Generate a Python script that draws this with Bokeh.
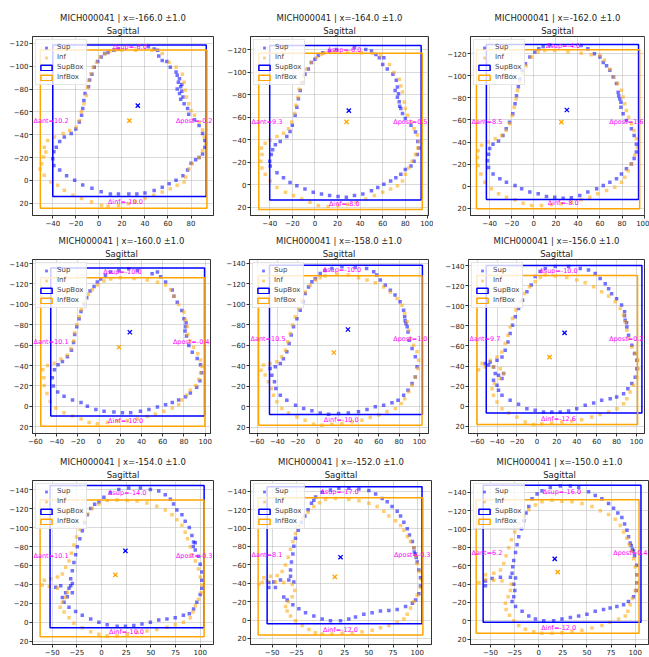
from bokeh.plotting import figure
from bokeh.layouts import column, row
from bokeh.models import Range1d, FixedTicker, Title, Legend, LegendItem, Label
from bokeh.embed import file_html
from bokeh.resources import INLINE

CASE = "MICH000041"
SLICE_X = [-166.0, -164.0, -162.0, -160.0, -158.0, -156.0, -154.0, -152.0, -150.0]

# ---- contour points (x, y) per slice ----
SUP_166 = [(13,-114),(17,-115),(43,-117),(48,-115),(51,-114),(52,-109),(55,-105),(59,-104),(62,-99),(67,-95),(70,-89),(71,-82),(70,-76),(71,-71),(74,-67),(77,-63),(78,-58),(83,-53),(87,-48),(90,-41),(92,-35),(92,-29),(90,-23),(87,-20),(84,-18),(80,-15),(77,-9),(73,-4),(67,0),(61,3),(55,6),(48,9),(40,11),(33,12),(26,12),(17,12),(10,12),(2,10),(-6,7),(-14,4),(-21,0),(-28,-4),(-34,-9),(-39,-13),(-40,-19),(-39,-25),(-37,-29),(-34,-34),(-30,-38),(-24,-41),(-20,-45),(-17,-51),(-15,-57),(-14,-63),(-13,-70),(-12,-76),(-9,-82),(-8,-88),(-6,-93),(-4,-99),(-1,-104),(2,-108),(5,-111),(8,-112),(68,-92),(69,-86),(72,-84),(72,-78),(73,-73),(68,-80)]
INF_166 = [(14,-114),(20,-114),(32,-114),(46,-114),(55,-111),(61,-103.5),(67,-99),(72.5,-93),(74,-86),(75,-79),(76,-73),(78,-67),(80,-61),(83,-57),(87,-51),(90,-44),(91.5,-38),(93,-32),(90,-26),(87,-20),(81,-14.6),(78,-10),(75.4,-3),(74,1.5),(68,4.4),(62,7.3),(55,10.2),(47.7,13),(40,16),(31.6,19),(25.7,20.4),(17,22),(8,22.7),(2.3,22),(-6.4,19),(-15,16),(-22.5,13),(-30,8.7),(-35.7,4.4),(-41.5,1.5),(-47.4,-4.4),(-51,-10),(-49.7,-14.6),(-48,-20.4),(-46,-24.8),(-47.4,-29),(-44.4,-35),(-38.6,-38),(-31,-41),(-25.4,-43.7),(-19.6,-46.6),(-16.7,-52.5),(-15.2,-60),(-12.9,-67),(-10.8,-74.3),(-10,-81.6),(-8.8,-87.5),(-7,-93.3),(-5,-99),(-2,-103.5),(1,-108),(5.3,-110.8),(9.6,-113)]

SUP_164 = [(3,-115),(7,-117.5),(13,-119),(19,-120.5),(35,-122),(45,-120.5),(50,-119),(54,-116),(57,-113),(61,-113),(60,-107),(64,-103),(69,-98.5),(72,-93),(73,-87),(74,-81),(74.6,-74),(76,-68),(77.5,-63.5),(80,-59),(85,-53),(89,-47),(91,-38.6),(92,-32.7),(90.6,-27),(87.7,-21),(85,-16.7),(80,-13.7),(76,-9.4),(71.6,-6.4),(67,-3.5),(61,-0.6),(55.6,2.3),(50,5.3),(42.4,8.2),(35,9.6),(27.8,11),(20.5,10.5),(13,9.6),(5.8,8.2),(-1.5,6.7),(-8.8,3.8),(-16,0.9),(-22,-2),(-27.8,-6.4),(-33.6,-10.8),(-39.5,-16.7),(-40,-21),(-38.6,-27),(-37.4,-31.3),(-35,-35.7),(-30.7,-38.6),(-24.9,-43),(-22,-47.4),(-20,-53),(-17.5,-62),(-16,-69),(-14.6,-76.6),(-13,-84),(-11,-91),(-8.8,-98.5),(-5.8,-103),(-3,-108.8),(0,-111.7),(73,-78),(75,-70),(71,-84)]
INF_164 = [(8.8,-117.5),(17.5,-118),(29,-118),(41,-117.5),(51,-117),(58,-114.6),(66,-107),(70,-100),(74.6,-94),(76,-88),(77.5,-82.5),(79,-73.7),(80,-68),(82,-62),(85,-56),(87.7,-50),(90.6,-44.4),(92,-38.6),(91,-32.7),(89,-27),(86,-21),(83,-15),(80,-9.4),(77.5,-3.5),(73,0.9),(67,3.8),(60,6.7),(52.6,9.6),(45,12.6),(36.5,15.5),(29,17.5),(20.5,18.4),(11.7,19.3),(3,18.4),(-4.4,15.5),(-11.7,12.6),(-19,9.6),(-26,6.7),(-33.6,2.3),(-39.5,-3.5),(-44,-9.4),(-46.8,-15),(-48,-21),(-46.8,-27),(-47.4,-32.7),(-44,-37),(-39.5,-40),(-33.6,-43),(-27.8,-46),(-23.4,-50),(-20.5,-56),(-18,-63.5),(-16.7,-70.8),(-15,-78),(-14,-85),(-12,-91),(-10,-97),(-7.3,-103),(-3.5,-108.8),(1.5,-113),(5.3,-116)]

SUP_162 = [(8.5,-126.6),(14.5,-128),(43,-127.5),(49,-124.5),(55,-120),(60,-117),(63,-112),(66,-109),(69,-105),(72,-99),(75,-93),(76.5,-85),(78,-79),(79,-71.6),(81,-65.6),(84,-59.5),(88.5,-52),(91,-46),(93,-38),(93,-31),(91,-25),(88.5,-20),(84,-15.7),(79.5,-11),(75,-6.6),(69,-3.6),(63,-0.6),(57,2.4),(49,5.4),(41.7,8.5),(34,10.6),(26.6,11),(19,10),(11.5,9.4),(4,7),(-3.6,5.4),(-11,2.4),(-17,-0.6),(-24.8,-3.6),(-30.8,-6.6),(-36.9,-11),(-41,-17),(-42,-23),(-41,-29),(-40,-34),(-37,-38),(-32,-41),(-28,-46),(-25,-52),(-22,-58),(-19,-65.6),(-17,-74.6),(-15.7,-82),(-14,-90),(-12.7,-97),(-10.6,-105),(-7.6,-111),(-3.6,-117),(1,-121.5),(4.5,-124.5),(77,-82),(79,-76)]
INF_162 = [(10,-123),(19,-123),(31,-121.5),(43,-120.5),(52,-119),(60,-118.4),(64,-114),(69,-106),(73,-99),(76,-93),(79.5,-87),(81,-80.7),(82.5,-74.6),(84,-68.6),(86,-62.5),(88.5,-56.5),(91,-50.5),(93,-43),(94,-35),(91.5,-28),(88.5,-20),(85.5,-14),(82.5,-8),(79.5,-3.6),(73.4,1),(66,4),(58,7),(50.8,10),(43,12.4),(34,14.5),(25,16),(16,16.6),(7,17.5),(-2,17.5),(-9.7,15.4),(-17,12.4),(-24.8,10),(-32,7),(-38.4,2.4),(-44.4,-3.6),(-48,-11),(-50.5,-18.7),(-51,-26),(-50.5,-32),(-47.4,-37),(-41.4,-40),(-35,-43),(-29,-46),(-25,-50.5),(-21.8,-56.5),(-19.6,-64),(-17.8,-71.6),(-16,-79),(-14.8,-86.7),(-12.7,-94),(-10,-101.8),(-7,-109),(-2,-117),(4,-121.5)]

SUP_160 = [(1.6,-125),(6,-128.5),(11,-131.7),(18.8,-133),(28,-135),(36,-133),(50,-130),(55,-131.7),(58,-127),(62.7,-122),(69,-114),(70.5,-108),(73.7,-102),(78,-94),(80,-86),(81.5,-78),(82.4,-69),(84.6,-59.6),(87.8,-53),(92.5,-47),(95.6,-40.8),(96.6,-33),(95,-25),(92,-18.8),(86,-13),(81.5,-9.4),(75,-6.3),(69,-3.8),(62.7,-1.6),(55,0.6),(47,3),(39,4.7),(29.8,6.3),(22,6.3),(14,5.6),(4.7,4.7),(-3,3),(-11,0),(-17,-3.8),(-25,-6.3),(-33,-10),(-39,-14),(-43,-20),(-44,-28),(-42,-36),(-38.6,-40.8),(-34.5,-44),(-29.8,-48.6),(-26,-55),(-24,-62.7),(-23,-70.5),(-21,-78),(-18.8,-86),(-17,-93),(-14,-100),(-11.6,-106.6),(-8.5,-113),(-4.7,-117.5),(-1.6,-122),(81,-74),(82,-82)]
INF_160 = [(11,-124.8),(20,-126),(33,-125.4),(45.5,-123.8),(55,-121.6),(62.7,-119),(67.4,-114.4),(70.5,-108),(75,-100),(80,-92.5),(81.5,-84.6),(83,-78.4),(83.7,-70.5),(85.6,-64),(89,-58),(93,-51.7),(95.6,-45.5),(97,-39),(95.6,-33),(94,-26.6),(91,-20.4),(86,-15.7),(82.4,-11),(78,-6.3),(75,-1.6),(69,1.6),(61,4.7),(53,7.8),(45.5,10),(36,12.5),(26.6,14),(17,14),(7.8,15.7),(-1.6,17),(-9.4,15.7),(-17,12.5),(-25,9.4),(-33,6.3),(-40.8,1.6),(-46,-4.7),(-49,-12.5),(-51.7,-20.4),(-52,-28),(-53,-36),(-48.6,-40),(-42.3,-42.3),(-36,-46.4),(-30,-50),(-26.6,-56.4),(-24,-64),(-23,-72),(-21,-80),(-18.8,-87.8),(-16.6,-94.7),(-14,-102),(-10,-110),(-6.3,-114.4),(-1.6,-119),(4.7,-123)]

SUP_158 = [(-2.6,-125),(2.3,-130),(7,-133),(13.8,-135),(23.7,-136.6),(36.8,-136),(48,-135),(55,-131.7),(58,-128.5),(61.5,-123.6),(66.4,-118.7),(71.4,-113.8),(76,-109),(81,-102.4),(84.5,-94.3),(85.5,-87.8),(86.8,-81.3),(88.8,-73),(90,-65),(92.8,-57),(96,-48.8),(97.7,-39),(96,-29),(92.8,-22.8),(88.8,-16.3),(84.5,-11.4),(79,-6.5),(73,-3.9),(64.8,-1.6),(56.6,0),(48.4,2.6),(40,4.9),(30,5.9),(20.4,6.5),(10.5,7.2),(2.3,5.9),(-5.9,3.9),(-14,1.6),(-22,-1.6),(-30.6,-6.5),(-37,-11.4),(-41.4,-17.9),(-42.8,-24.4),(-45.4,-30.9),(-47,-37.4),(-42,-39),(-37,-42.3),(-34,-47),(-30.6,-53.7),(-28.3,-61.8),(-26.3,-70),(-24,-78),(-20.7,-86),(-17.4,-94.3),(-15,-102.4),(-12.5,-110.6),(-9.2,-117),(-5.9,-122),(86,-84),(88,-78)]
INF_158 = [(7,-127.5),(18.8,-129.4),(30,-128.5),(40,-126),(48.4,-123.6),(56.6,-121),(64.8,-117),(71.4,-112),(78,-105.7),(82.9,-99),(85.5,-91),(87.8,-83),(89.5,-74.8),(91,-66.7),(94.4,-60),(97.7,-53.7),(99.3,-45.5),(98.7,-37.4),(96,-29),(92.8,-21),(89.5,-14.6),(85.5,-8),(82.2,-3.3),(76.3,1.6),(68,4.9),(60,8),(51.6,10.4),(43.4,13),(33.6,14.6),(23.7,16.3),(13.8,17),(4,17.9),(-4.3,17),(-12.5,13),(-20.7,9.8),(-29,5.9),(-35.5,1.6),(-40.5,-4.9),(-43.8,-11.4),(-46,-17.9),(-48.7,-24.4),(-52,-31),(-56,-35.8),(-53.6,-40.7),(-47,-42.3),(-40.5,-44),(-35.5,-48.8),(-32,-55.3),(-29.6,-63.4),(-27.3,-71.5),(-25,-79.7),(-22.4,-87.8),(-19,-96),(-16.4,-104),(-12.5,-112),(-7.6,-118.7),(-2.6,-123.6),(2.3,-126)]

SUP_156 = [(-1.7,-129),(3.3,-134),(8.4,-137),(18.4,-139),(31.8,-139),(43.5,-137),(51.8,-135.5),(58.5,-132),(63.5,-127),(68.6,-122),(72,-117),(75,-112),(80,-107),(85,-100.7),(88,-94),(88.6,-85.7),(90.3,-79),(92,-70.8),(95.3,-60.8),(98,-52.5),(100.3,-45.8),(100.3,-37.5),(98.7,-29),(95.3,-22.6),(91.3,-17.6),(87,-12.6),(80,-9.3),(73.6,-7.6),(65,-6),(57,-3.3),(48.5,-1),(40,2.3),(31.8,4.7),(23.4,5.6),(15,5.6),(6.7,5.6),(-1.7,4),(-10,2.3),(-18.4,-2),(-26.8,-6),(-35,-11),(-38.5,-16),(-40,-21),(-43.5,-26),(-38.5,-31),(-33.4,-32.6),(-35,-27.6),(-41.8,-32.6),(-43.5,-39),(-48.5,-41),(-51.8,-42.5),(-46.8,-44),(-40,-45.8),(-35,-49),(-31.8,-55.8),(-29,-64),(-26.8,-72.4),(-24.4,-80.7),(-21.7,-89),(-18.4,-97.3),(-14.4,-105.6),(-10,-114),(-5.7,-120.6),(88,-90),(90,-83)]
INF_156 = [(8.4,-130.6),(18.4,-129.6),(30,-128),(40,-125.6),(48.5,-123),(57,-119),(65,-114),(72,-109.6),(78.6,-104),(83.6,-97.3),(87,-90.7),(88.6,-84),(90.3,-75.7),(92,-67.4),(95.3,-59),(98.7,-52.5),(101.3,-45.8),(102,-37.5),(100.3,-29),(97,-21),(93.6,-14.3),(90.3,-7.6),(87,-2.7),(80.3,2.3),(72,5.6),(63.5,8),(55,10.6),(45,13.3),(35,14.6),(25,15.6),(15,16.6),(5,17.3),(-3.3,18),(-11.7,15.6),(-20,10.6),(-28.4,6.6),(-35,2.3),(-40,-4.3),(-43.5,-11),(-45,-17.6),(-42.5,-22.6),(-36.8,-27.6),(-33.4,-32.6),(-36.8,-37.5),(-43.5,-39),(-51.8,-39),(-58.5,-36.5),(-55,-42.5),(-46.8,-45.8),(-40,-49),(-35,-54),(-31.8,-62.5),(-29,-70.8),(-26.8,-79),(-24.4,-87.4),(-21,-95.7),(-16.7,-104),(-12.4,-112.3),(-7.4,-119),(-1.7,-124),(3.3,-128)]

SUP_154 = [(-2.7,-127),(2.4,-132),(9,-137),(17.5,-140.4),(27.6,-142),(39.4,-142),(49.5,-140.4),(58,-138.7),(64.6,-134.7),(69.7,-130),(73,-125),(76.4,-118.5),(81.5,-113.5),(84.8,-106.7),(89,-100),(91.6,-91.6),(93.3,-84.8),(95,-76.4),(98.3,-69.7),(100,-61.3),(101.7,-53),(101.7,-44.4),(101.7,-36),(100,-29.3),(96.6,-21),(93.3,-14),(89,-9),(83,-7.4),(74.7,-4.7),(66.3,-3.4),(58,-2.4),(49.5,0),(41,2),(32.7,3.4),(24.2,4.4),(15.8,4.4),(5.7,2.7),(-2.7,0),(-11,-3.4),(-19.5,-7.4),(-26.3,-11.4),(-33,-15.8),(-38,-21),(-39.7,-26),(-36.4,-31),(-33,-36),(-29.6,-41),(-46.5,-37),(-41.4,-38.4),(-31.3,-38.4),(-29.6,-31),(-34.7,-27),(-31.3,-46),(-29.6,-54.5),(-28,-63),(-26.3,-71.4),(-24.6,-79.8),(-22,-88.2),(-19.5,-96.6),(-17,-105),(-14.5,-113.5),(-11,-120.2),(-7,-124.6),(93,-80),(95,-84)]
INF_154 = [(5.7,-128.6),(15.8,-129.3),(26,-128.6),(36,-128),(46,-126),(56,-122.6),(64.6,-118.5),(71.4,-113.5),(76.4,-108.4),(81.5,-102.4),(84.8,-95),(87.2,-88.2),(90,-79.8),(91.6,-71.4),(95,-64.6),(98.3,-56.2),(100,-47.8),(101.7,-39.4),(101,-31),(98.3,-24.2),(95,-17.5),(92.6,-10.8),(90,-4.7),(83,0),(74.7,2.7),(66.3,5.4),(56,7.7),(46,9.4),(36,11),(26,12.8),(15.8,14.5),(5.7,14.5),(-2.7,12.8),(-11,10),(-19.5,6),(-28,1),(-33,-4.7),(-38,-10.8),(-42,-15.8),(-39.7,-21),(-36.4,-26),(-34.7,-31.6),(-44.8,-36),(-53,-37.7),(-60,-39.4),(-58,-44.4),(-51.5,-46),(-44.8,-47.8),(-39.7,-51),(-36.4,-58),(-33,-64.6),(-30.6,-73),(-28,-81.5),(-25.3,-90),(-22,-98.3),(-17.8,-106.7),(-13.8,-114.5),(-9.4,-120.2),(-2.7,-125)]

SUP_152 = [(-5,-133.8),(1.7,-139),(10.3,-141.4),(19,-143.4),(29.3,-143.4),(39.7,-142.4),(50,-140.7),(57,-137),(63.8,-132),(69,-128.6),(74,-123.4),(79.3,-118.3),(82.8,-113),(86.2,-106.2),(89.7,-99.3),(92,-92.4),(95,-85.5),(96.6,-78.6),(98.3,-71.7),(100,-63),(101.7,-54.5),(103.4,-45.9),(103.4,-37),(101.7,-28.6),(98.3,-21.7),(95,-18.3),(88,-14.8),(79.3,-11.4),(70.7,-10.3),(62,-9.7),(53.4,-8),(44.8,-6.2),(36.2,-3.4),(29.3,-1),(20.7,0.7),(10.3,0.7),(1.7,-1),(-6.9,-4.5),(-15.5,-8),(-22.4,-12.4),(-28.6,-16.6),(-34.5,-21.7),(-38,-25),(-53.4,-40.7),(-48.3,-41.4),(-41.4,-43.4),(-32.8,-43.4),(-27.6,-41.4),(-46.6,-35.5),(-53.4,-35.5),(-31,-47.6),(-31,-54.5),(-30,-63),(-28.6,-71.7),(-27.6,-80.3),(-25.9,-89),(-23,-97.6),(-19.7,-106.2),(-16.2,-113),(-12.8,-120),(-9.3,-127),(-6.9,-130.3),(97,-74),(99,-68)]
INF_152 = [(5.2,-131),(15.5,-132),(29.3,-131),(39.7,-129.7),(50,-127),(58.6,-123.4),(65.5,-118.3),(70.7,-113),(77.6,-108),(82.8,-102.8),(86.2,-97.6),(89.7,-90.7),(93,-85.5),(96.6,-78.6),(98.3,-70),(100,-61.4),(102.4,-52.8),(104.5,-44),(103.4,-35.5),(100,-27),(96.6,-20),(93,-13),(89.7,-6.2),(86.2,-1),(79.3,2.4),(70.7,5.9),(62,8.3),(53.4,11),(43,12.8),(32.8,13.8),(22.4,14.5),(12,15.2),(1.7,15.2),(-5.2,13.8),(-12,10.3),(-19,5.9),(-25.9,0.7),(-31,-4.5),(-34.5,-9.7),(-36.2,-14.8),(-33.4,-20),(-29.3,-25.2),(-26.6,-32),(-29.3,-39),(-38,-40.7),(-46.6,-41.4),(-55.2,-42.4),(-60.3,-40.7),(-63.8,-39),(-58.6,-45.9),(-51.7,-47.6),(-44.8,-48.3),(-39.7,-52.8),(-36.2,-59.7),(-33.4,-68.3),(-31,-77),(-28.6,-85.5),(-25.9,-94),(-22.4,-102.8),(-18.3,-110.3),(-12.8,-117.2),(-6.9,-123.4),(-1,-127.6)]

SUP_150 = [(-6.9,-133),(-1.7,-138.4),(3.4,-141.9),(12,-145.3),(22.4,-147),(32.8,-147),(41.4,-145.3),(51.7,-140.8),(58.6,-136.7),(65.5,-133.2),(72.4,-128),(77.6,-122.8),(82,-117.6),(86.2,-112.5),(89,-105.5),(91.4,-98.6),(93.1,-91.7),(94.8,-84.8),(97.2,-77.9),(99.3,-71),(101.7,-60.6),(101.7,-50.2),(101.7,-41.5),(101,-32.9),(98.3,-26),(93,-20.8),(88,-17.3),(81,-15.6),(74,-13.8),(67.2,-12.1),(58.6,-10.4),(50,-6.9),(41.4,-5.2),(32.8,-3.5),(24.1,-1.7),(15.5,0),(5.2,0),(-3.4,-1.7),(-10.3,-5.2),(-17.2,-10.4),(-24,-15.6),(-27.6,-20.8),(-55.2,-43.3),(-48.3,-46),(-39.7,-47.4),(-29.3,-47.4),(-24,-46.7),(-25.9,-39.8),(-24.8,-32.9),(-25.9,-26),(-55.2,-38),(-27.6,-51.9),(-26.9,-58.8),(-25.9,-65.7),(-24,-74.4),(-22.4,-83),(-20.7,-91.7),(-17.9,-100.3),(-15.5,-109),(-13.1,-117.6),(-10.3,-124.6),(96,-82),(98,-76)]
INF_150 = [(3.4,-129.8),(13.8,-131.5),(24.1,-130.4),(34.5,-129.8),(44.8,-128),(55.2,-124.6),(63.8,-120),(72.4,-116),(79.3,-110.7),(84.5,-103.8),(88,-96.9),(91.4,-90),(93.8,-83),(95.9,-76),(98.3,-67.5),(100,-58.8),(101.7,-50.2),(101.7,-41.5),(100,-32.9),(97.2,-24.2),(94.8,-17.3),(92.4,-10.4),(89.7,-5.2),(82.8,-1.7),(74,1.7),(65.5,5.2),(55.2,8),(44.8,10.4),(34.5,12.1),(24.1,13.1),(13.8,13.8),(3.4,13.8),(-5.2,12.1),(-13.8,9.3),(-20.7,5.2),(-25.9,0),(-30.3,-5.9),(-33.8,-12.1),(-34.5,-19),(-31.7,-26),(-29.3,-32.9),(-28.3,-39.8),(-38,-43.3),(-46.6,-44),(-55.2,-45),(-62,-41.5),(-55.2,-50.2),(-46.6,-51.9),(-39.7,-55.4),(-36.2,-62.3),(-33.8,-71),(-31,-79.6),(-28.3,-88.2),(-24.8,-96.9),(-20.7,-105.5),(-15.5,-114.2),(-10.3,-121),(-3.4,-126.3)]

SUP_POINTS = [SUP_166, SUP_164, SUP_162, SUP_160, SUP_158, SUP_156, SUP_154, SUP_152, SUP_150]
INF_POINTS = [INF_166, INF_164, INF_162, INF_160, INF_158, INF_156, INF_154, INF_152, INF_150]

# bounding boxes (left, right, top, bottom)
SUP_BOX = [(-40,93.2,-118.5,14.2),(-40,94,-124,13.5),(-43,95,-128.4,12),(-45.5,99.4,-135.7,9.4),(-47.7,103,-138,7.5),(-50.8,105.4,-140,6.6),(-52.2,104,-144.4,6),(-55.2,105,-145,4),(-57.6,106,-147.7,1.7)]
INF_BOX = [(-50.8,93.8,-114.2,24.4),(-49.7,95,-117,22),(-52,96,-123.6,20.5),(-54.9,99.7,-126,19.4),(-58.5,102.6,-127.8,17.9),(-60.2,101,-130,18),(-62.3,104,-129.3,15.5),(-64.5,105.9,-133,16.2),(-64.8,104,-132,13.8)]

# centroids
SUP_CENTROID = [(33.8,-65.5),(30,-66),(30,-69),(29,-72.7),(29.6,-75.4),(27.8,-73),(24.2,-75.4),(20.7,-68.3),(16.6,-67.5)]
INF_CENTROID = [(26.5,-52.3),(28,-56),(25,-58),(18.8,-58),(15.8,-53),(12.7,-49),(14,-50),(14.8,-47),(19.7,-53)]

# delta annotations
D_SUP = [-6.0, -6.0, -4.0, -10.0, -10.0, -10.0, -14.0, -17.0, -16.0]
D_INF = [-10.0, -8.0, -8.0, -10.0, -10.0, -12.6, -10.0, -12.0, -12.0]
D_ANT = [10.2, 9.3, 8.5, 10.1, 10.5, 9.7, 10.1, 8.1, 6.2]
D_POST = [-0.2, 0.5, 1.6, -0.4, 1.0, 0.2, -0.3, -0.3, 0.4]
LBL_SUP_POS = [(26.8,-116.5),(26,-120),(26.6,-127),(22,-131.7),(23.7,-133),(21.7,-135),(26,-137),(19.7,-139),(24,-140)]
LBL_INF_POS = [(23,19),(26,17.5),(26.6,15.4),(25,14),(23,12.4),(21.7,12.3),(25.3,10),(20.7,10.3),(20.7,8)]
LBL_SIDE_Y = [-52.3, -55.5, -58, -63.6, -66, -67.4, -69.7, -71, -73.7]

# view ranges (x_start, x_end, y_top, y_bottom)
VIEW = [(-57.6,99.5,-126,30.8),(-57,100.5,-132,27.3),(-57.4,100.4,-135.6,26.6),
        (-62.7,105,-144,26.6),(-67.4,109,-143.7,26),(-68.6,108,-146,27),
        (-70,113.5,-149.8,23.6),(-72.4,114.8,-151.7,26.6),(-70.7,113.8,-153,26)]
X_TICKS_20 = [-60, -40, -20, 0, 20, 40, 60, 80, 100]
X_TICKS_25 = [-75, -50, -25, 0, 25, 50, 75, 100]
Y_TICKS = [-140, -120, -100, -80, -60, -40, -20, 0, 20]

# figure geometry per panel: width, height, border left/right/top/bottom
GEOM = [(216,228,32,3,36,13),(217,228,34,5,33,13),(216,228,37,5,36,13),
        (216,220,32,6,25,13),(217,220,33,5,31,15),(216,220,35,5,31,15),
        (216,209,32,3,31,13),(217,209,34,2,31,13),(216,209,37,1,32,13)]

FONT = "DejaVu Sans"
SUP_C = "#0000ff"
INF_C = "#ffa500"
MAG = "#ff00ff"

def fmt(v):
    return f"{v:.1f}"

figs = []
for i in range(9):
    w, h, bl, br, bt, bb = GEOM[i]
    x0, x1, yt, yb = VIEW[i]
    p = figure(width=w, height=h, output_backend="svg", toolbar_location=None,
               x_range=Range1d(x0, x1), y_range=Range1d(yb, yt),
               min_border_left=bl, min_border_right=br, min_border_top=bt, min_border_bottom=bb,
               title=None)
    p.add_layout(Title(text="Sagittal", align="center", text_font=FONT, text_font_size="8.5px",
                       text_font_style="normal", text_color="#222222", standoff=2, offset=0), "above")
    p.add_layout(Title(text=f"{CASE} | x={SLICE_X[i]:.1f} \u00b11.0", align="center", text_font=FONT,
                       text_font_size="8.5px", text_font_style="normal", text_color="#222222",
                       standoff=0, offset=0), "above")
    p.background_fill_color = "white"
    p.border_fill_color = "white"
    p.outline_line_color = "#333333"
    p.outline_line_width = 1
    for ax in (p.xaxis[0], p.yaxis[0]):
        ax.major_label_text_font = FONT
        ax.major_label_text_font_size = "7px"
        ax.major_label_text_color = "#222222"
        ax.major_tick_out = 3
        ax.major_tick_in = 0
        ax.minor_tick_out = 0
        ax.minor_tick_in = 0
        ax.major_label_standoff = 1
        ax.axis_line_color = "#333333"
        ax.major_tick_line_color = "#333333"
    p.xaxis.ticker = FixedTicker(ticks=X_TICKS_25 if i >= 6 else X_TICKS_20)
    p.yaxis.ticker = FixedTicker(ticks=Y_TICKS)
    p.grid.grid_line_color = "#b0b0b0"
    p.grid.grid_line_alpha = 0.6
    p.grid.grid_line_width = 0.8

    sx = [pt[0] for pt in SUP_POINTS[i]]
    sy = [pt[1] for pt in SUP_POINTS[i]]
    ix = [pt[0] for pt in INF_POINTS[i]]
    iy = [pt[1] for pt in INF_POINTS[i]]
    r_sup = p.scatter(sx, sy, marker="square", size=3.5, color=SUP_C, alpha=0.55, line_width=0)
    r_inf = p.scatter(ix, iy, marker="square", size=3.5, color=INF_C, alpha=0.55, line_width=0)

    sl, sr, st, sb = SUP_BOX[i]
    il, ir, it, ib = INF_BOX[i]
    r_sbox = p.quad(left=[sl], right=[sr], top=[st], bottom=[sb], fill_alpha=0,
                    line_color=SUP_C, line_width=1.5)
    r_ibox = p.quad(left=[il], right=[ir], top=[it], bottom=[ib], fill_alpha=0,
                    line_color=INF_C, line_width=1.5)

    p.scatter([SUP_CENTROID[i][0]], [SUP_CENTROID[i][1]], marker="x", size=6, line_color=SUP_C, line_width=1.3)
    p.scatter([INF_CENTROID[i][0]], [INF_CENTROID[i][1]], marker="x", size=6, line_color=INF_C, line_width=1.3)

    lab_kw = dict(text_font=FONT, text_font_size="6.5px", text_color=MAG, text_baseline="middle")
    p.add_layout(Label(x=LBL_SUP_POS[i][0], y=LBL_SUP_POS[i][1], text=f"\u0394sup={fmt(D_SUP[i])}",
                       text_align="center", **lab_kw))
    p.add_layout(Label(x=LBL_INF_POS[i][0], y=LBL_INF_POS[i][1], text=f"\u0394inf={fmt(D_INF[i])}",
                       text_align="center", **lab_kw))
    # side labels sit against the frame edges so that they stay fully visible
    p.add_layout(Label(x=x0, x_offset=1, y=LBL_SIDE_Y[i], text=f"\u0394ant={fmt(D_ANT[i])}",
                       text_align="left", **lab_kw))
    p.add_layout(Label(x=x1, x_offset=-1, y=LBL_SIDE_Y[i], text=f"\u0394post={fmt(D_POST[i])}",
                       text_align="right", **lab_kw))

    legend = Legend(items=[LegendItem(label="Sup", renderers=[r_sup]),
                           LegendItem(label="Inf", renderers=[r_inf]),
                           LegendItem(label="SupBox", renderers=[r_sbox]),
                           LegendItem(label="InfBox", renderers=[r_ibox])],
                    location="top_left")
    legend.label_text_font = FONT
    legend.label_text_font_size = "7px"
    legend.glyph_width = 14
    legend.glyph_height = 7
    legend.label_height = 7
    legend.label_standoff = 4
    legend.spacing = 2
    legend.padding = 3
    legend.margin = 3
    legend.border_line_color = "#cccccc"
    legend.background_fill_alpha = 0.8
    p.add_layout(legend)
    figs.append(p)

layout = column(row(figs[0], figs[1], figs[2]),
                row(figs[3], figs[4], figs[5]),
                row(figs[6], figs[7], figs[8]))

open("out.html", "w").write(file_html(layout, INLINE))
